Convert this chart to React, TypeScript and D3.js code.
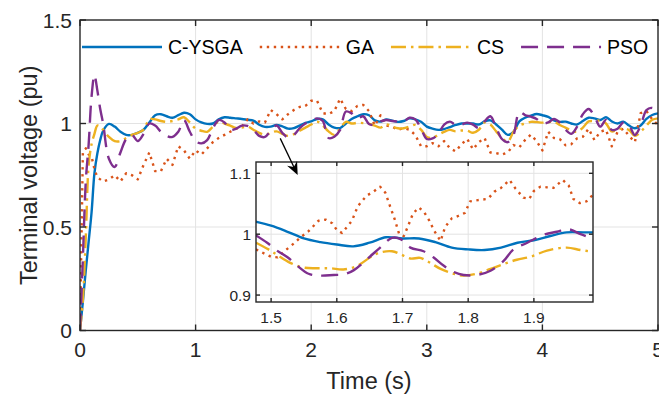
import React, { useEffect, useRef } from 'react';
import * as d3 from 'd3';

// sample instants (s), finer at start-up
const TIME = [
  0, 0.025, 0.05, 0.075, 0.1, 0.125, 0.15, 0.175, 0.2,
  0.25, 0.3, 0.35, 0.4, 0.45, 0.5,
  0.55, 0.6, 0.65, 0.7, 0.75, 0.8, 0.85, 0.9, 0.95, 1.0,
  1.05, 1.1, 1.15, 1.2, 1.25, 1.3, 1.35, 1.4, 1.45, 1.5,
  1.55, 1.6, 1.65, 1.7, 1.75, 1.8, 1.85, 1.9, 1.95, 2.0,
  2.05, 2.1, 2.15, 2.2, 2.25, 2.3, 2.35, 2.4, 2.45, 2.5,
  2.55, 2.6, 2.65, 2.7, 2.75, 2.8, 2.85, 2.9, 2.95, 3.0,
  3.05, 3.1, 3.15, 3.2, 3.25, 3.3, 3.35, 3.4, 3.45, 3.5,
  3.55, 3.6, 3.65, 3.7, 3.75, 3.8, 3.85, 3.9, 3.95, 4.0,
  4.05, 4.1, 4.15, 4.2, 4.25, 4.3, 4.35, 4.4, 4.45, 4.5,
  4.55, 4.6, 4.65, 4.7, 4.75, 4.8, 4.85, 4.9, 4.95, 5.0,
];

const C_YSGA = [
  0, 0.14, 0.29, 0.43, 0.57, 0.76, 0.855, 0.92, 0.965,
  0.998, 0.985, 0.96, 0.945, 0.945, 0.955,
  0.97, 1.005, 1.04, 1.045, 1.035, 1.028, 1.04, 1.052, 1.045, 1.02,
  1.005, 0.998, 1.0, 1.02, 1.03, 1.028, 1.025, 1.022, 1.018, 1.014,
  0.994, 0.984, 0.985, 0.993, 0.986, 0.975, 0.978, 0.99, 1.003, 1.01,
  1.022, 1.02, 0.995, 0.98, 0.978, 1.0, 1.022, 1.035, 1.045, 1.04,
  1.015, 1.009, 1.02, 1.014, 1.008, 1.012, 1.025, 1.02, 1.008, 0.985,
  0.975, 0.969, 0.973, 0.983, 0.993, 1.0, 1.0, 1.0, 0.995, 1.01,
  1.015, 0.995, 0.97, 0.945, 0.96, 1.01, 1.028, 1.038, 1.046, 1.04,
  1.032, 1.015, 1.008, 1.009, 1.0, 0.995, 1.012, 1.028, 1.025, 1.017,
  1.03, 1.01, 1.0, 1.009, 0.99, 0.977, 0.99, 1.022, 1.041, 1.049,
];

const GA = [
  0, 0.86, 0.88, 0.85, 0.84, 0.78, 0.74, 0.73, 0.72,
  0.73, 0.75, 0.72, 0.76, 0.75, 0.73,
  0.8, 0.86, 0.77, 0.77, 0.83, 0.8, 0.89, 0.87, 0.83, 0.87,
  0.85, 0.88, 0.91, 0.93, 0.945, 0.96, 0.975, 0.985, 1.02, 1.0,
  1.01, 1.005, 1.065, 1.045, 1.02, 1.045, 1.065, 1.08, 1.085, 1.11,
  1.11, 1.05, 1.045, 1.06, 1.12, 1.07, 1.06, 1.085, 1.09, 1.06,
  0.99, 1.04, 0.99, 0.985, 0.97, 0.977, 0.97, 0.945, 0.89, 0.89,
  0.905, 0.89, 0.915, 0.88, 0.865, 0.9, 0.925, 0.875, 0.91, 0.93,
  0.86, 0.857, 0.85, 0.86, 0.896, 0.885, 0.92, 0.946, 0.915, 0.87,
  0.96, 0.93, 0.925, 0.895, 0.9, 0.928, 0.936, 0.975, 0.92, 0.96,
  0.97, 0.89, 0.96, 0.975, 0.94, 0.91, 1.05, 1.06, 1.02, 0.993,
];

const CS = [
  0, 0.15, 0.45, 0.8, 0.9, 0.95, 0.99, 0.985, 0.97,
  0.935, 0.915, 0.915, 0.93, 0.945, 0.955,
  0.97, 1.02, 1.02, 1.012, 1.008, 1.012, 1.02, 1.03, 1.005, 0.975,
  0.965, 0.96, 0.985, 1.009, 1.0, 0.99, 0.978, 0.98, 0.985, 0.97,
  0.955, 0.945, 0.955, 0.962, 0.95, 0.94, 0.948, 0.965, 0.98, 0.995,
  1.009, 0.99, 0.962, 0.945, 0.975, 1.008, 1.0, 1.003, 1.002, 0.998,
  0.99, 0.98, 0.996, 0.985, 0.977, 0.977, 0.985, 0.993, 0.97, 0.935,
  0.93, 0.946, 0.96, 0.969, 0.962, 0.966, 0.965, 0.955, 0.97, 1.005,
  0.995, 0.962, 0.93, 0.912, 0.96, 0.99, 1.0, 1.008, 1.007, 1.004,
  1.006, 1.009, 0.993, 0.98, 0.967, 0.96, 0.98, 1.01, 1.012, 1.013,
  1.0, 0.962, 0.972, 0.975, 0.968, 0.94, 0.96, 0.99, 1.018, 1.025,
];

const PSO = [
  0, 0.35, 0.72, 0.9, 1.13, 1.234, 1.16, 1.07, 1.0,
  0.83, 0.79, 0.86, 0.925, 0.944, 0.915,
  0.95, 1.0, 0.99, 0.96, 0.94, 0.935, 0.96, 1.015, 0.96, 0.915,
  0.904, 0.92, 0.977, 1.017, 1.005, 0.969, 0.975, 0.99, 0.988, 0.969,
  0.94, 0.935, 0.965, 0.99, 0.955, 0.933, 0.945, 0.977, 1.0, 1.012,
  1.025, 1.012, 0.93, 0.936, 0.969, 1.058, 1.049, 1.025, 1.035, 0.998,
  0.993, 1.01, 1.017, 1.012, 1.009, 1.009, 1.028, 1.02, 0.975, 0.925,
  0.928, 0.95, 0.995, 1.009, 0.993, 0.995, 1.004, 0.995, 0.978, 1.01,
  1.035, 0.98, 0.925, 0.91, 0.945, 1.055, 1.041, 1.033, 1.022, 1.0,
  1.005, 1.022, 1.005, 0.97, 0.95, 0.985, 1.045, 1.07, 1.035, 0.985,
  1.017, 0.969, 0.975, 1.005, 0.99, 0.944, 0.99, 1.065, 1.075, 1.05,
];

// zoomed detail, [time, voltage]
const ZOOM_C_YSGA = [
  [1.475, 1.021], [1.5, 1.014], [1.525, 1.004], [1.55, 0.993], [1.575, 0.987],
  [1.6, 0.983], [1.625, 0.98], [1.65, 0.986], [1.675, 0.995], [1.7, 0.993],
  [1.725, 0.993], [1.75, 0.987], [1.775, 0.978], [1.8, 0.975], [1.825, 0.974],
  [1.85, 0.978], [1.875, 0.986], [1.9, 0.99], [1.925, 0.997], [1.95, 1.003],
  [1.975, 1.003], [2.0, 1.003],
];
const ZOOM_GA = [
  [1.477, 0.975], [1.49, 0.968], [1.5, 0.963], [1.51, 0.962], [1.52, 0.972],
  [1.535, 0.985], [1.545, 0.995], [1.557, 1.005], [1.572, 1.022], [1.583, 1.024],
  [1.593, 1.018], [1.6, 1.007], [1.608, 1.002], [1.623, 1.022], [1.632, 1.046],
  [1.645, 1.063], [1.656, 1.07], [1.666, 1.078], [1.674, 1.068], [1.681, 1.046],
  [1.688, 1.025], [1.695, 1.0], [1.702, 0.997], [1.708, 1.012], [1.716, 1.034],
  [1.725, 1.044], [1.733, 1.036], [1.741, 1.022], [1.748, 1.006], [1.758, 0.989],
  [1.765, 1.012], [1.775, 1.026], [1.785, 1.03], [1.795, 1.035], [1.803, 1.054],
  [1.815, 1.056], [1.83, 1.058], [1.84, 1.07], [1.85, 1.076], [1.863, 1.089],
  [1.872, 1.075], [1.884, 1.06], [1.893, 1.058], [1.9, 1.071], [1.91, 1.078],
  [1.92, 1.077], [1.93, 1.076], [1.944, 1.089], [1.953, 1.08], [1.96, 1.058],
  [1.97, 1.051], [1.98, 1.054], [1.99, 1.065],
];
const ZOOM_CS = [
  [1.477, 0.986], [1.496, 0.975], [1.509, 0.966], [1.529, 0.953], [1.55, 0.945],
  [1.57, 0.944], [1.59, 0.944], [1.61, 0.942], [1.631, 0.948], [1.651, 0.962],
  [1.666, 0.97], [1.684, 0.972], [1.697, 0.967], [1.712, 0.96], [1.727, 0.961],
  [1.742, 0.953], [1.758, 0.943], [1.778, 0.935], [1.793, 0.932], [1.813, 0.935],
  [1.834, 0.943], [1.854, 0.951], [1.874, 0.958], [1.895, 0.963], [1.92, 0.973],
  [1.95, 0.978], [1.971, 0.974], [1.991, 0.971],
];
const ZOOM_PSO = [
  [1.477, 0.998], [1.494, 0.986], [1.509, 0.973], [1.525, 0.962], [1.54, 0.948],
  [1.557, 0.935], [1.575, 0.932], [1.595, 0.933], [1.611, 0.934], [1.626, 0.941],
  [1.646, 0.959], [1.666, 0.978], [1.684, 0.994], [1.697, 0.992], [1.712, 0.978],
  [1.732, 0.972], [1.747, 0.962], [1.763, 0.948], [1.778, 0.938], [1.793, 0.933],
  [1.813, 0.933], [1.834, 0.94], [1.854, 0.956], [1.869, 0.975], [1.89, 0.986],
  [1.915, 0.999], [1.935, 1.004], [1.953, 1.008], [1.971, 1.0], [1.991, 0.992],
];

const X_TICKS = [0, 1, 2, 3, 4, 5];
const Y_TICKS = [0, 0.5, 1, 1.5];
const ZOOM_X_TICKS = [1.5, 1.6, 1.7, 1.8, 1.9];
const ZOOM_Y_TICKS = [0.9, 1, 1.1];

const FONT = '"Liberation Sans", Arial, Helvetica, sans-serif';
const INK = '#262626';

const App = () => {
  const svgRef = useRef(null);
  const width = 659;
  const height = 394;

  useEffect(() => {
    const svg = d3.select(svgRef.current);
    svg.selectAll('*').remove();

    const series = [
      { name: 'C-YSGA', values: C_YSGA, zoom: ZOOM_C_YSGA, color: '#0072BD', dash: null, width: 2.4, curve: d3.curveCatmullRom },
      { name: 'GA', values: GA, zoom: ZOOM_GA, color: '#D95319', dash: '2.4 4.6', width: 2.4, curve: d3.curveLinear },
      { name: 'CS', values: CS, zoom: ZOOM_CS, color: '#EDB120', dash: '15 5 2.5 5', width: 2.4, curve: d3.curveCatmullRom },
      { name: 'PSO', values: PSO, zoom: ZOOM_PSO, color: '#7E2F8E', dash: '17 9', width: 2.4, curve: d3.curveCatmullRom },
    ];

    // main axes
    const x = d3.scaleLinear().domain([0, 5]).range([80, 658]);
    const y = d3.scaleLinear().domain([0, 1.5]).range([330.5, 20]);
    const [x0, x1] = x.range();
    const [y0, y1] = y.range();

    const defs = svg.append('defs');
    defs.append('clipPath').attr('id', 'main-clip')
      .append('rect').attr('x', x0).attr('y', y1).attr('width', x1 - x0).attr('height', y0 - y1);

    // grid
    const grid = svg.append('g').attr('stroke', '#e3e3e3').attr('stroke-width', 1);
    X_TICKS.slice(1, -1).forEach(t => {
      grid.append('line').attr('x1', x(t)).attr('x2', x(t)).attr('y1', y0).attr('y2', y1);
    });
    Y_TICKS.slice(1, -1).forEach(v => {
      grid.append('line').attr('x1', x0).attr('x2', x1).attr('y1', y(v)).attr('y2', y(v));
    });

    // main curves
    const plot = svg.append('g').attr('clip-path', 'url(#main-clip)');
    series.forEach(s => {
      const line = d3.line<number>()
        .x((d, i) => x(TIME[i]))
        .y(d => y(d))
        .curve(s.curve);
      plot.append('path')
        .attr('d', line(s.values))
        .attr('fill', 'none')
        .attr('stroke', s.color)
        .attr('stroke-width', s.width)
        .attr('stroke-dasharray', s.dash)
        .attr('stroke-linejoin', 'round');
    });

    // box and ticks
    const axis = svg.append('g').attr('stroke', INK).attr('stroke-width', 1.4);
    axis.append('rect').attr('x', x0).attr('y', y1).attr('width', x1 - x0).attr('height', y0 - y1).attr('fill', 'none');
    X_TICKS.forEach(t => {
      axis.append('line').attr('x1', x(t)).attr('x2', x(t)).attr('y1', y0).attr('y2', y0 - 6);
      axis.append('line').attr('x1', x(t)).attr('x2', x(t)).attr('y1', y1).attr('y2', y1 + 6);
    });
    Y_TICKS.forEach(v => {
      axis.append('line').attr('x1', x0).attr('x2', x0 + 6).attr('y1', y(v)).attr('y2', y(v));
      axis.append('line').attr('x1', x1).attr('x2', x1 - 6).attr('y1', y(v)).attr('y2', y(v));
    });

    const labels = svg.append('g').attr('font-family', FONT).attr('fill', INK);
    X_TICKS.forEach(t => {
      labels.append('text').attr('x', x(t)).attr('y', 357).attr('text-anchor', 'middle')
        .attr('font-size', 21).text(String(t));
    });
    Y_TICKS.forEach(v => {
      labels.append('text').attr('x', 72).attr('y', y(v)).attr('dy', '0.36em').attr('text-anchor', 'end')
        .attr('font-size', 21).text(String(v));
    });
    labels.append('text').attr('x', (x0 + x1) / 2).attr('y', 389).attr('text-anchor', 'middle')
      .attr('font-size', 23.5).text('Time (s)');
    labels.append('text').attr('transform', `translate(37, ${(y0 + y1) / 2}) rotate(-90)`)
      .attr('text-anchor', 'middle').attr('font-size', 23.5).text('Terminal voltage (pu)');

    // legend
    const legend = svg.append('g').attr('font-family', FONT);
    let lx = 82;
    const ly = 47;
    series.forEach(s => {
      legend.append('line').attr('x1', lx).attr('x2', lx + 80).attr('y1', ly).attr('y2', ly)
        .attr('stroke', s.color).attr('stroke-width', s.width).attr('stroke-dasharray', s.dash);
      const txt = legend.append('text').attr('x', lx + 86).attr('y', ly).attr('dy', '0.36em')
        .attr('font-size', 19.5).attr('fill', '#000').text(s.name);
      const w = (txt.node() as SVGTextElement).getComputedTextLength();
      lx += 86 + w + 17;
    });

    // inset
    const zx = d3.scaleLinear().domain([1.477, 1.99]).range([256, 593]);
    const zy = d3.scaleLinear().domain([0.8886, 1.1186]).range([302, 162]);
    const [zx0, zx1] = zx.range();
    const [zy0, zy1] = zy.range();
    defs.append('clipPath').attr('id', 'zoom-clip')
      .append('rect').attr('x', zx0).attr('y', zy1).attr('width', zx1 - zx0).attr('height', zy0 - zy1);

    svg.append('rect').attr('x', zx0).attr('y', zy1).attr('width', zx1 - zx0).attr('height', zy0 - zy1)
      .attr('fill', '#fff');
    const zgrid = svg.append('g').attr('stroke', '#e3e3e3').attr('stroke-width', 1);
    ZOOM_X_TICKS.forEach(t => {
      zgrid.append('line').attr('x1', zx(t)).attr('x2', zx(t)).attr('y1', zy0).attr('y2', zy1);
    });
    ZOOM_Y_TICKS.forEach(v => {
      zgrid.append('line').attr('x1', zx0).attr('x2', zx1).attr('y1', zy(v)).attr('y2', zy(v));
    });

    const zplot = svg.append('g').attr('clip-path', 'url(#zoom-clip)');
    series.forEach(s => {
      const line = d3.line<number[]>()
        .x(d => zx(d[0]))
        .y(d => zy(d[1]))
        .curve(s.curve);
      zplot.append('path')
        .attr('d', line(s.zoom))
        .attr('fill', 'none')
        .attr('stroke', s.color)
        .attr('stroke-width', s.width)
        .attr('stroke-dasharray', s.dash)
        .attr('stroke-linejoin', 'round');
    });

    const zaxis = svg.append('g').attr('stroke', INK).attr('stroke-width', 1.4);
    zaxis.append('rect').attr('x', zx0).attr('y', zy1).attr('width', zx1 - zx0).attr('height', zy0 - zy1).attr('fill', 'none');
    ZOOM_X_TICKS.forEach(t => {
      zaxis.append('line').attr('x1', zx(t)).attr('x2', zx(t)).attr('y1', zy0).attr('y2', zy0 - 4);
      zaxis.append('line').attr('x1', zx(t)).attr('x2', zx(t)).attr('y1', zy1).attr('y2', zy1 + 4);
    });
    ZOOM_Y_TICKS.forEach(v => {
      zaxis.append('line').attr('x1', zx0).attr('x2', zx0 + 4).attr('y1', zy(v)).attr('y2', zy(v));
      zaxis.append('line').attr('x1', zx1).attr('x2', zx1 - 4).attr('y1', zy(v)).attr('y2', zy(v));
    });
    const zlabels = svg.append('g').attr('font-family', FONT).attr('fill', INK).attr('font-size', 15.5);
    ZOOM_X_TICKS.forEach(t => {
      zlabels.append('text').attr('x', zx(t)).attr('y', 323).attr('text-anchor', 'middle').text(String(t));
    });
    ZOOM_Y_TICKS.forEach(v => {
      zlabels.append('text').attr('x', zx0 - 5).attr('y', zy(v)).attr('dy', '0.36em')
        .attr('text-anchor', 'end').text(String(v));
    });

    // arrow pointing into the inset
    const ax0 = x(1.732), ay0 = y(0.928);
    const ax1 = x(1.883), ay1 = y(0.751);
    const len = Math.hypot(ax1 - ax0, ay1 - ay0);
    const ux = (ax1 - ax0) / len, uy = (ay1 - ay0) / len;
    const nx = -uy, ny = ux;
    svg.append('line').attr('x1', ax0).attr('y1', ay0)
      .attr('x2', ax1 - ux * 8).attr('y2', ay1 - uy * 8)
      .attr('stroke', '#000').attr('stroke-width', 1.3);
    const head = [
      [ax1, ay1],
      [ax1 - ux * 13 + nx * 5.5, ay1 - uy * 13 + ny * 5.5],
      [ax1 - ux * 9, ay1 - uy * 9],
      [ax1 - ux * 13 - nx * 5.5, ay1 - uy * 13 - ny * 5.5],
    ];
    svg.append('polygon').attr('points', head.map(p => p.join(',')).join(' ')).attr('fill', '#000');
  }, []);

  return (
    <svg
      ref={svgRef}
      width={width}
      height={height}
      style={{ position: 'absolute', left: 0, top: 0, background: '#fff' }}
    />
  );
};

export default App;
